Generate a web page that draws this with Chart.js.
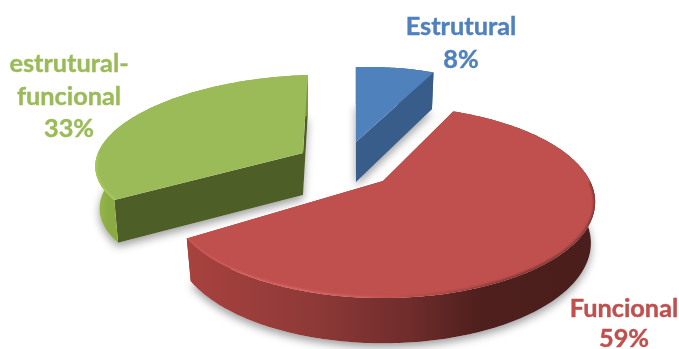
<!DOCTYPE html>
<html>
<head>
<meta charset="utf-8">
<style>
  html, body { margin: 0; padding: 0; background: #fff; }
  canvas { display: block; }
</style>
<script src="https://cdn.jsdelivr.net/npm/chart.js@4/dist/chart.umd.min.js"></script>
</head>
<body>
<canvas id="pie" width="679" height="349"></canvas>
<script>
const categories = ["Estrutural", "Funcional", "estrutural-funcional"]
const labelLines = [["Estrutural"], ["Funcional"], ["estrutural-", "funcional"]]
const shares = [8, 59, 33]
const topColors = ["#4F81BD", "#C0504D", "#9BBB59"]

// how each exploded wedge sits in the tilted view
const views = [
  {ax: 356, ay: 142, R: 190, S: 90, k: 0.2, shear: 0.175, depth: 40},
  {ax: 383, ay: 181, R: 207, S: 91.4, k: 0.219, shear: 0, depth: 40},
  {ax: 303, ay: 153, R: 205, S: 82.5, k: 0.054, shear: 0.27, depth: 42},
]
const cutColors = ["#385D8A", "#772C2A", "#4D5E27"]
const wallStops = [
  [[0, "#385D8A"], [1, "#385D8A"]],
  [[0, "#A8423F"], [0.3, "#8F3A38"], [0.55, "#6E2C2B"], [0.72, "#4E1F1D"], [1, "#4A1E1C"]],
  [[0, "#9ABC4E"], [0.06, "#8BAC44"], [1, "#7C9A3C"]],
]
const rimStops = [
  [[0, "rgba(120,165,220,0)"], [1, "rgba(120,165,220,0)"]],
  [[0, "#C95955"], [0.25, "#D96B66"], [0.45, "#CF5F5B"], [0.62, "rgba(150,60,58,.6)"], [0.8, "rgba(60,22,20,.6)"], [1, "rgba(60,22,20,.5)"]],
  [[0, "#A8CF58"], [0.2, "#A2C658"], [0.4, "rgba(155,187,89,0)"], [1, "rgba(155,187,89,0)"]],
]
const labelSpots = [
  {x: 461, y: 35, gap: 33},
  {x: 624, y: 317, gap: 30},
  {x: 69, y: 72, gap: 32.5},
]

function project(v, a, r = 1) {
  const u = r * Math.sin(a), d = r * Math.cos(a)
  const w = 1 + v.k * d
  const py = v.S * d / w
  return {x: v.ax + v.R * u / w + v.shear * py, y: v.ay - py, drop: v.depth / Math.sqrt(w), ax: v.ax}
}

function arcPoints(v, a0, a1) {
  const n = Math.ceil(Math.abs(a1 - a0) * 60)
  const pts = []
  for (let i = 0; i <= n; i++) pts.push(project(v, a0 + (a1 - a0) * i / n))
  return pts
}

function tracePoly(ctx, pts) {
  ctx.beginPath()
  pts.forEach((p, i) => i ? ctx.lineTo(p.x, p.y) : ctx.moveTo(p.x, p.y))
  ctx.closePath()
}

// the lower edge pulls in slightly towards the wedge's apex
const lowered = p => ({x: p.x + (p.ax - p.x) * 0.02, y: p.y + p.drop})

function gradient(ctx, x0, x1, stops) {
  const g = ctx.createLinearGradient(x0, 0, x1, 0)
  stops.forEach(s => g.addColorStop(s[0], s[1]))
  return g
}

const wedge3d = {
  id: "wedge3d",
  beforeDatasetsDraw(chart) {
    const ctx = chart.ctx
    const arcs = chart.getDatasetMeta(0).data
    const shapes = arcs.map((el, i) => {
      const v = views[i]
      const a0 = el.startAngle + Math.PI / 2, a1 = el.endAngle + Math.PI / 2
      const apex = project(v, 0, 0)
      return {i, v, apex, arc: arcPoints(v, a0, a1), fill: el.options.backgroundColor}
    })

    // soft ground shadow below all the wedges
    ctx.save()
    ctx.shadowColor = "rgba(0,0,0,.38)"
    ctx.shadowBlur = 9
    ctx.shadowOffsetY = 4
    ctx.fillStyle = "#fff"
    shapes.forEach(s => {
      tracePoly(ctx, [lowered(s.apex), ...s.arc.map(lowered)])
      ctx.fill()
    })
    ctx.restore()

    shapes.forEach(s => {
      const first = s.arc[0], last = s.arc[s.arc.length - 1]
      const xs = s.arc.map(p => p.x)
      const x0 = Math.min(...xs), x1 = Math.max(...xs)
      // cut faces
      ctx.fillStyle = cutColors[s.i]
      for (const end of [first, last]) {
        tracePoly(ctx, [s.apex, end, lowered(end), lowered(s.apex)])
        ctx.fill()
      }
      // outer wall
      ctx.fillStyle = gradient(ctx, x0, x1, wallStops[s.i])
      tracePoly(ctx, [...s.arc, ...s.arc.map(lowered).reverse()])
      ctx.fill()
      // top face
      ctx.fillStyle = s.fill
      tracePoly(ctx, [s.apex, ...s.arc])
      ctx.fill()
      // bevel along the near part of the rim
      ctx.save()
      tracePoly(ctx, [s.apex, ...s.arc])
      ctx.clip()
      ctx.filter = "blur(1px)"
      ctx.strokeStyle = gradient(ctx, x0, x1, rimStops[s.i])
      ctx.lineWidth = 3
      ctx.beginPath()
      s.arc.filter(p => p.y > s.v.ay).forEach((p, n) => n ? ctx.lineTo(p.x, p.y) : ctx.moveTo(p.x, p.y))
      ctx.stroke()
      ctx.restore()
    })
    return false
  },
  afterDraw(chart) {
    const ctx = chart.ctx
    ctx.save()
    ctx.font = 'bold 25.3px Lato, "Open Sans", sans-serif'
    ctx.textAlign = "center"
    ctx.textBaseline = "alphabetic"
    ctx.lineWidth = 0.4
    labelLines.forEach((lines, i) => {
      const spot = labelSpots[i]
      ctx.fillStyle = topColors[i]
      ctx.strokeStyle = topColors[i]
      const rows = [...lines, shares[i] + "%"]
      rows.forEach((t, n) => {
        ctx.fillText(t, spot.x, spot.y + n * spot.gap)
        ctx.strokeText(t, spot.x, spot.y + n * spot.gap)
      })
    })
    ctx.restore()
  }
}

new Chart(document.getElementById("pie"), {
  type: "pie",
  data: {
    labels: categories,
    datasets: [{data: shares, backgroundColor: topColors, borderWidth: 0}]
  },
  options: {
    rotation: -4.8,
    responsive: false,
    animation: false,
    plugins: {legend: {display: false}, tooltip: {enabled: false}}
  },
  plugins: [wedge3d]
})
</script>
</body>
</html>
